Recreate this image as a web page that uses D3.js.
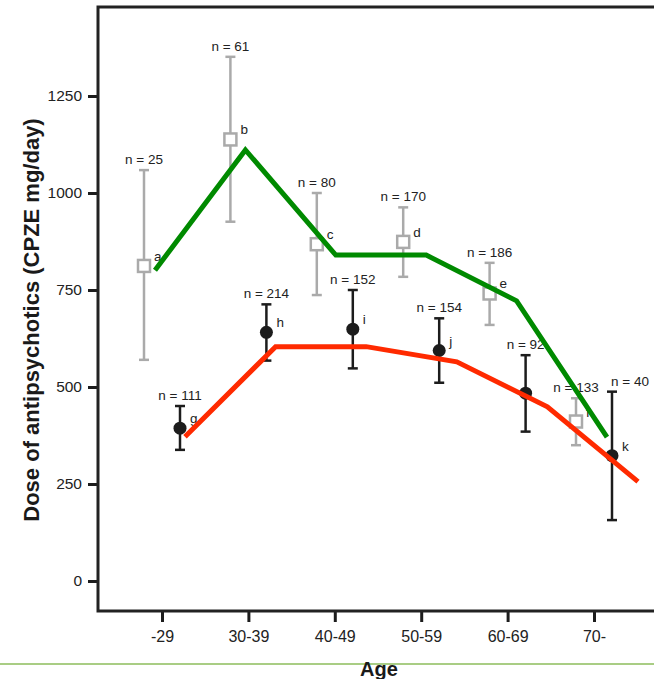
<!DOCTYPE html>
<html>
<head>
<meta charset="utf-8">
<script src="https://cdn.jsdelivr.net/npm/d3@7"></script>
<style>
  html, body { margin: 0; padding: 0; background: #fff; }
  svg { display: block; font-family: "Liberation Sans", Arial, sans-serif; }
</style>
</head>
<body>
<div id="chart"></div>
<script>
// age groups on the x axis
const ages = ["-29", "30-39", "40-49", "50-59", "60-69", "70-"];
const yTicks = [0, 250, 500, 750, 1000, 1250];

// grey squares (first series)
const greyMean = [812, 1138, 868, 874, 741, 411];
const greyHigh = [1059, 1351, 1000, 963, 820, 471];
const greyLow = [570, 926, 737, 784, 660, 350];
const greyN = [25, 61, 80, 170, 186, 133];
const greyTag = ["a", "b", "c", "d", "e", "f"];

// black circles (second series)
const blackMean = [394, 641, 649, 594, 484, 323];
const blackHigh = [451, 713, 750, 677, 582, 488];
const blackLow = [338, 568, 548, 511, 385, 157];
const blackN = [111, 214, 152, 154, 92, 40];
const blackTag = ["g", "h", "i", "j", "", "k"];

// fitted lines
const greenFit = [801, 1111, 840, 840, 722, 371];
const redFit = [372, 604, 604, 565, 449, 256];

////////////////////////////////////////////////////////////////////////////////////

const width = 654;
const height = 679;
const plotLeft = 98, plotTop = 7, plotBottom = 611;

const svg = d3.select("#chart").append("svg")
  .attr("width", width)
  .attr("height", height);

const x = d3.scalePoint().domain(ages).range([162, 594]);
const y = d3.scaleLinear().domain([0, 1250]).range([581, 96]);
const greenX = d3.scaleLinear().domain([0, 5]).range([155, 607]);
const redX = d3.scaleLinear().domain([0, 5]).range([185, 638]);

const shift = 18;
const ink = "#1c1c1c";
const grey = "#aaaaaa";

////////////////////////////////////////////////////////////////////////////////////

// axes
const yAxis = svg.append("g")
  .attr("transform", `translate(${plotLeft},0)`)
  .call(d3.axisLeft(y).tickValues(yTicks).tickFormat(d3.format("d")).tickSize(10).tickPadding(6));
yAxis.select(".domain").remove();
yAxis.selectAll(".tick line").attr("stroke", ink).attr("stroke-width", 3);
yAxis.selectAll(".tick text")
  .attr("fill", "#222")
  .style("font-size", "15.5px")
  .style("font-family", "Liberation Sans, Arial, sans-serif");

const xAxis = svg.append("g")
  .attr("transform", `translate(0,${plotBottom})`)
  .call(d3.axisBottom(x).tickSize(11).tickPadding(9));
xAxis.select(".domain").remove();
xAxis.selectAll(".tick line").attr("stroke", ink).attr("stroke-width", 3);
xAxis.selectAll(".tick text")
  .attr("fill", "#222")
  .style("font-size", "16px")
  .style("font-family", "Liberation Sans, Arial, sans-serif");

// frame
svg.append("path")
  .attr("d", `M${width},${plotTop}H${plotLeft}V${plotBottom}H${width}`)
  .attr("fill", "none")
  .attr("stroke", "#222")
  .attr("stroke-width", 3);

////////////////////////////////////////////////////////////////////////////////////

function drawSeries(mean, high, low, n, tags, dx, color, shape, lastStart) {
  const g = svg.append("g");
  const rows = ages.map((a, i) => ({ a, i, m: mean[i], hi: high[i], lo: low[i], n: n[i], t: tags[i] }));
  const px = (d) => x(d.a) + dx;
  const cap = 5;

  g.selectAll("line.bar").data(rows).enter().append("line")
    .attr("x1", px).attr("x2", px)
    .attr("y1", (d) => y(d.hi)).attr("y2", (d) => y(d.lo))
    .attr("stroke", color).attr("stroke-width", 2.5);

  ["hi", "lo"].forEach((k) => {
    g.selectAll("line.cap-" + k).data(rows).enter().append("line")
      .attr("x1", (d) => px(d) - cap).attr("x2", (d) => px(d) + cap)
      .attr("y1", (d) => y(d[k])).attr("y2", (d) => y(d[k]))
      .attr("stroke", color).attr("stroke-width", 2.5);
  });

  if (shape === "square") {
    g.selectAll("rect").data(rows).enter().append("rect")
      .attr("x", (d) => px(d) - 6).attr("y", (d) => y(d.m) - 6)
      .attr("width", 12).attr("height", 12)
      .attr("fill", "#fff").attr("stroke", color).attr("stroke-width", 2.5);
  } else {
    g.selectAll("circle").data(rows).enter().append("circle")
      .attr("cx", px).attr("cy", (d) => y(d.m)).attr("r", 6.5)
      .attr("fill", color);
  }

  g.selectAll("text.n").data(rows).enter().append("text")
    .attr("x", (d) => (lastStart && d.i === 5 ? px(d) - 1 : px(d)))
    .attr("y", (d) => y(d.hi) - 6)
    .attr("text-anchor", (d) => (lastStart && d.i === 5 ? "start" : "middle"))
    .attr("fill", "#222")
    .style("font-size", "13.5px")
    .text((d) => "n = " + d.n);

  g.selectAll("text.tag").data(rows.filter((d) => d.t)).enter().append("text")
    .attr("x", (d) => px(d) + 10)
    .attr("y", (d) => y(d.m) - 5)
    .attr("fill", "#222")
    .style("font-size", "13.5px")
    .text((d) => d.t);
}

drawSeries(greyMean, greyHigh, greyLow, greyN, greyTag, -shift, grey, "square", false);
drawSeries(blackMean, blackHigh, blackLow, blackN, blackTag, shift, ink, "circle", true);

////////////////////////////////////////////////////////////////////////////////////

svg.append("path")
  .datum(greenFit)
  .attr("d", d3.line().x((d, i) => greenX(i)).y((d) => y(d)))
  .attr("fill", "none")
  .attr("stroke", "#008a00")
  .attr("stroke-width", 5);

svg.append("path")
  .datum(redFit)
  .attr("d", d3.line().x((d, i) => redX(i)).y((d) => y(d)))
  .attr("fill", "none")
  .attr("stroke", "#ff2a00")
  .attr("stroke-width", 5);

////////////////////////////////////////////////////////////////////////////////////

// titles
svg.append("text")
  .attr("transform", "translate(39,320) rotate(-90)")
  .attr("text-anchor", "middle")
  .attr("fill", "#1a1a1a")
  .style("font-size", "22px")
  .style("font-weight", "bold")
  .text("Dose of antipsychotics (CPZE mg/day)");

svg.append("line")
  .attr("x1", 0).attr("x2", width)
  .attr("y1", 664).attr("y2", 664)
  .attr("stroke", "#a9cd84")
  .attr("stroke-width", 2);

svg.append("text")
  .attr("x", 379)
  .attr("y", 676)
  .attr("text-anchor", "middle")
  .attr("fill", "#1a1a1a")
  .style("font-size", "20px")
  .style("font-weight", "bold")
  .text("Age");
</script>
</body>
</html>
